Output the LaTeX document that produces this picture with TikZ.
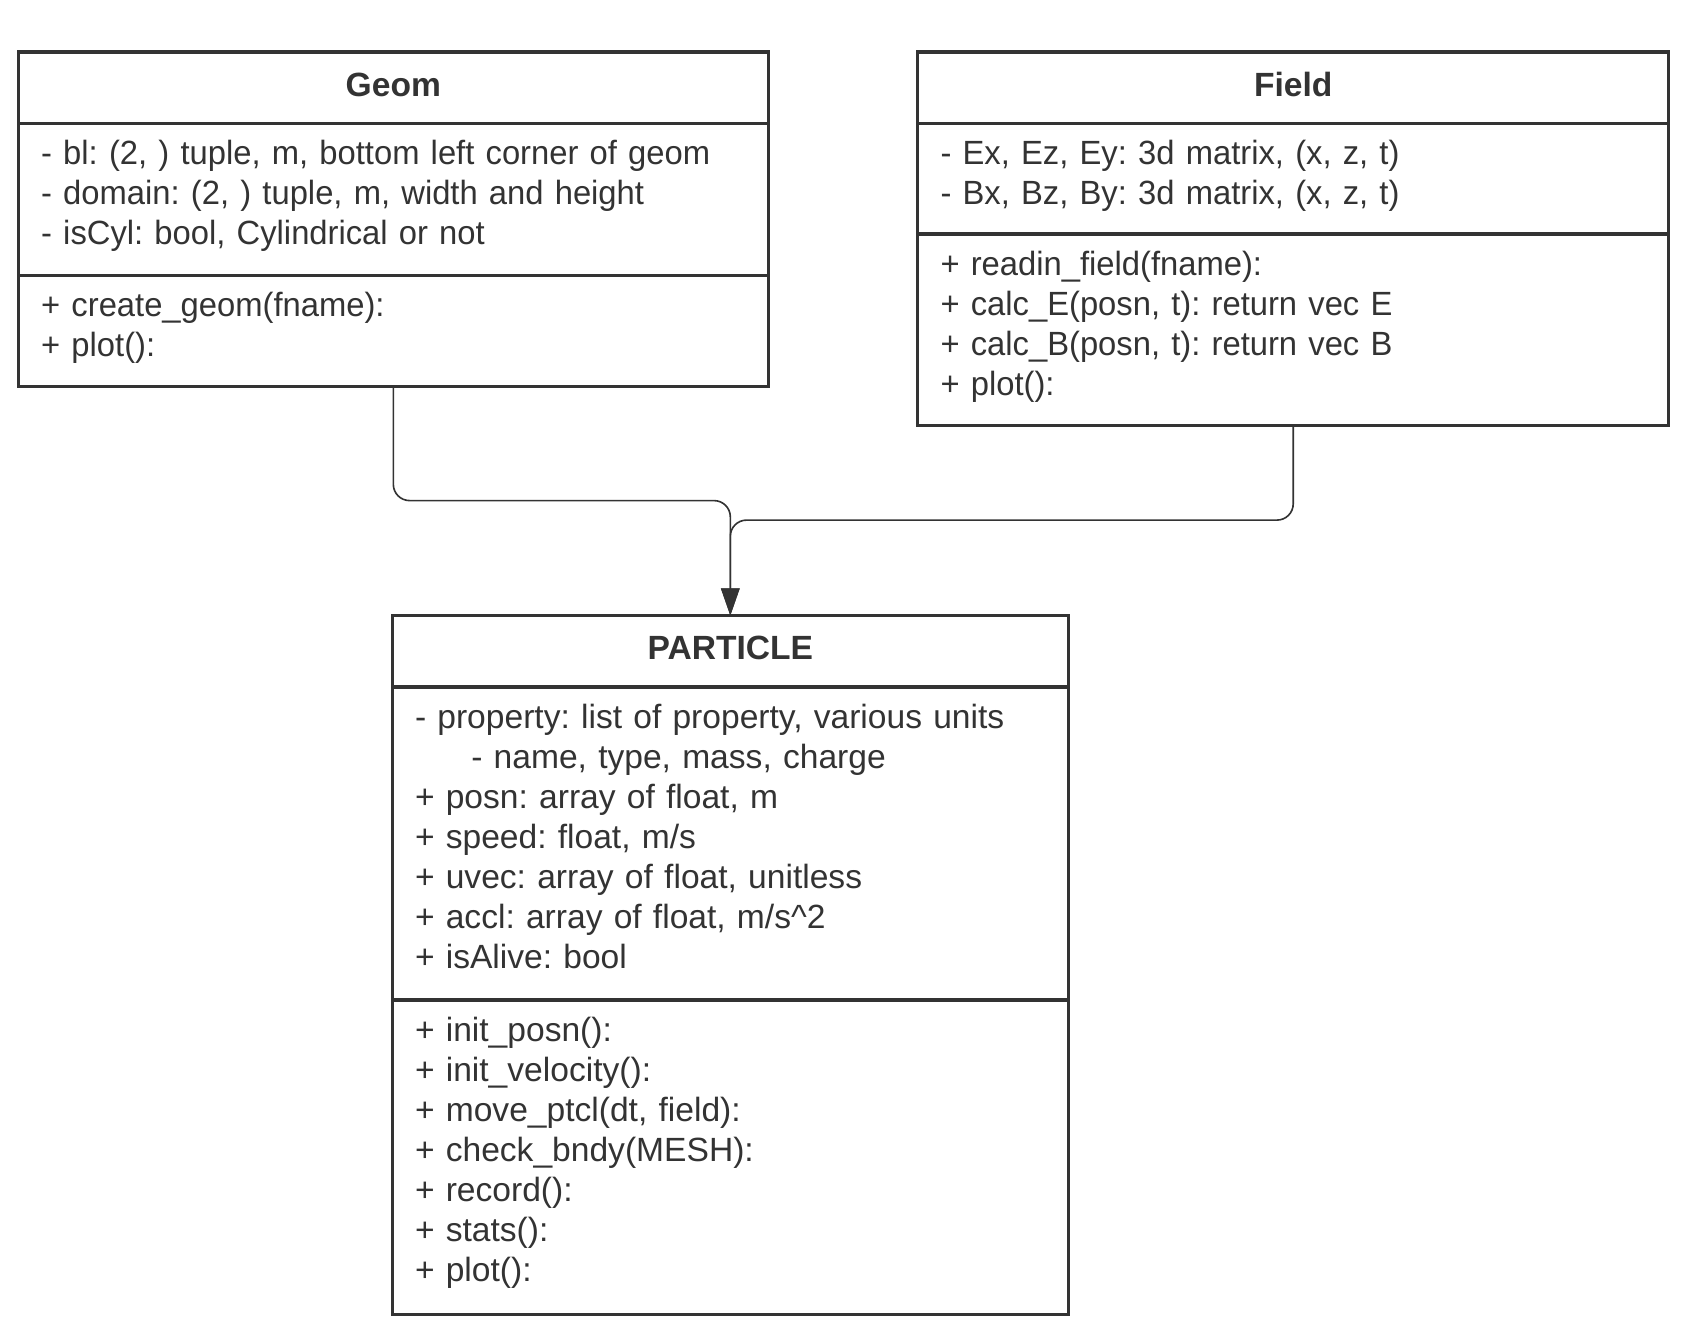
\documentclass[tikz,border=0pt]{standalone}
\usepackage{fontspec}
\setmainfont{Liberation Sans}
\newfontfamily\slimfont[FakeStretch=0.975]{Liberation Sans}
\usetikzlibrary{positioning,arrows.meta}
\definecolor{ink}{HTML}{333333}
\begin{document}
\frenchspacing
\begin{tikzpicture}[x=1pt, y=-1pt, font=\fontsize{31}{37}\selectfont, color=ink,
    umlhead/.style={draw=ink, line width=3pt, outer sep=0pt, font=\fontsize{31}{37}\selectfont\bfseries, minimum height=66pt, inner sep=0pt, text height=22pt, text depth=6pt},
    umlbody/.style={draw=ink, line width=3pt, outer sep=0pt, align=left, inner xsep=21pt, inner ysep=0pt, text height=38pt},
    slim/.style={font=\fontsize{31}{37}\slimfont},
    link/.style={draw=ink, line width=1.5pt, rounded corners=15pt, -{Triangle[length=25pt,width=17pt]}}]
    \useasboundingbox (0,0) rectangle (1568,1230);

    % Geom
    \node[umlhead, minimum width=692pt, anchor=north west] (geom) at (17,48) {Geom};
    \node[umlbody, slim, text width=650pt, text depth=102pt, below=0pt of geom] (geomattr)
        {- bl: (2, ) tuple, m, bottom left corner of geom\\
         - domain: (2, ) tuple, m, width and height\\
         - isCyl: bool, Cylindrical or not};
    \node[umlbody, slim, text width=650pt, text depth=65pt, below=0pt of geomattr] (geommeth)
        {+ create\_geom(fname):\\
         + plot():};

    % Field
    \node[umlhead, minimum width=693pt, anchor=north west] (field) at (847,48) {Field};
    \node[umlbody, slim, text width=651pt, text depth=64pt, below=0pt of field] (fieldattr)
        {- Ex, Ez, Ey: 3d matrix, (x, z, t)\\
         - Bx, Bz, By: 3d matrix, (x, z, t)};
    \node[umlbody, slim, text width=651pt, text depth=139pt, below=0pt of fieldattr] (fieldmeth)
        {+ readin\_field(fname):\\
         + calc\_E(posn, t): return vec E\\
         + calc\_B(posn, t): return vec B\\
         + plot():};

    % PARTICLE
    \node[umlhead, minimum width=624pt, anchor=north west] (ptcl) at (362,568) {PARTICLE};
    \node[umlbody, text width=582pt, text depth=251pt, below=0pt of ptcl] (ptclattr)
        {- property: list of property, various units\\
         \hspace*{52pt}- name, type, mass, charge\\
         + posn: array of float, m\\
         + speed: float, m/s\\
         + uvec: array of float, unitless\\
         + accl: array of float, m/s\textasciicircum 2\\
         + isAlive: bool};
    \node[umlbody, text width=582pt, text depth=252pt, below=0pt of ptclattr] (ptclmeth)
        {+ init\_posn():\\
         + init\_velocity():\\
         + move\_ptcl(dt, field):\\
         + check\_bndy(MESH):\\
         + record():\\
         + stats():\\
         + plot():};

    % connectors
    \coordinate (geomturn) at (674,462);
    \coordinate (fieldturn) at (674,480);
    \draw[link] (geommeth.south) |- (geomturn) -- (ptcl.north);
    \draw[link] (fieldmeth.south) |- (fieldturn) -- (ptcl.north);

\end{tikzpicture}
\end{document}
